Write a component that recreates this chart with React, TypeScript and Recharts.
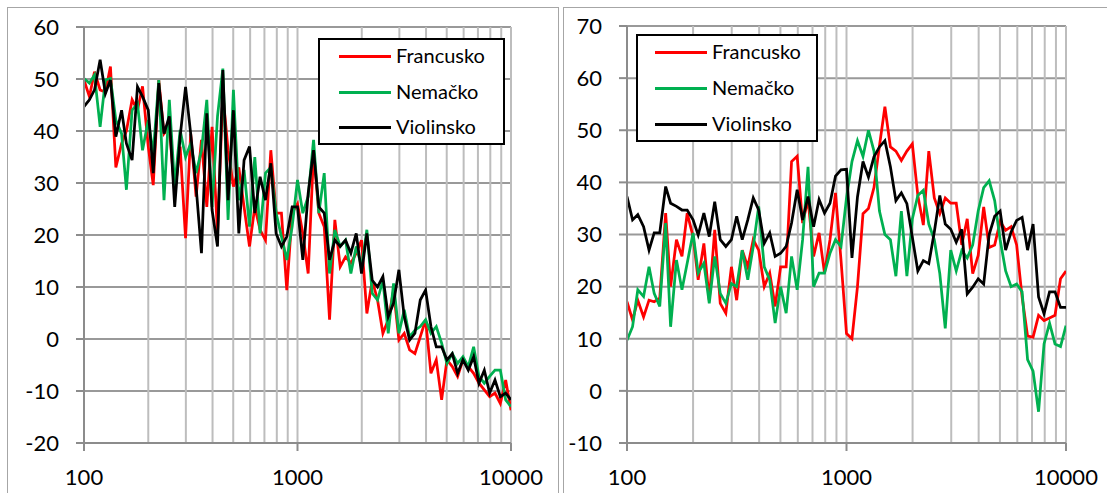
import React from 'react';
import { LineChart, Line, XAxis, YAxis, CartesianGrid, Legend, ReferenceLine } from 'recharts';

const FONT = "Lato, 'Open Sans', 'DejaVu Sans', sans-serif";

const FREQS = [
  100, 106, 112, 119, 126, 133, 141, 150, 158, 168, 178, 188, 200, 211, 224, 237, 251, 266, 282, 299,
  316, 335, 355, 376, 398, 422, 447, 473, 501, 531, 562, 596, 631, 668, 708, 750, 794, 841, 891, 944,
  1000, 1059, 1122, 1189, 1259, 1334, 1413, 1496, 1585, 1679, 1778, 1884, 1995, 2113, 2239, 2371, 2512, 2661, 2818, 2985,
  3162, 3350, 3548, 3758, 3981, 4217, 4467, 4732, 5012, 5309, 5623, 5957, 6310, 6683, 7079, 7499, 7943, 8414, 8913, 9441,
  10000,
];

const GRID_FREQS = [
  200, 300, 400, 500, 600, 700, 800, 900,
  1000, 2000, 3000, 4000, 5000, 6000, 7000, 8000, 9000, 10000,
];
const X_TICKS = [100, 1000, 10000];
const LEFT_Y_TICKS = [-20, -10, 0, 10, 20, 30, 40, 50, 60];
const RIGHT_Y_TICKS = [-10, 0, 10, 20, 30, 40, 50, 60, 70];

const SERIES_NAMES = ['Francusko', 'Nemačko', 'Violinsko'];
const SERIES_KEYS = ['fr', 'ne', 'vi'];
const SERIES_COLORS = ['#ff0000', '#00b050', '#000000'];

// Left panel
const LEFT_FRANCUSKO = [
  49.8, 46.6, 51.4, 47.9, 47.5, 52.4, 33, 37.6, 40, 46, 44, 48.6, 37, 29.6, 49.8, 39.5, 40.8, 28, 37, 19.4,
  39.5, 27.4, 38.3, 25.4, 40.8, 20.3, 47.2, 36.3, 29.3, 33, 25.4, 17.8, 25.4, 21, 19, 36.3, 24.2, 24.2, 9.4, 24.2,
  26, 20.3, 12.6, 35.7, 24.2, 21.6, 3.7, 22.9, 13.9, 15.8, 14.6, 16.5, 19, 4.9, 11.3, 7.5, 1.1, 3.7, 9.4, -0.2,
  1.1, -2.1, -2.8, 0.4, 3.7, -6.6, -4, -11.7, -4, -5.3, -7.2, -4, -5.3, -6.6, -8.5, -9.8, -11.1, -10.4, -12.4, -7.9,
  -13.7,
];
const LEFT_NEMACKO = [
  50.1, 49.2, 50.8, 40.8, 49.8, 50.1, 42.1, 39.5, 28.7, 44, 45.3, 36.3, 42.1, 35.7, 49.8, 26.7, 46, 29.3, 40.2, 35,
  37.6, 31.9, 36.3, 46, 25.4, 42.8, 52, 22.9, 47.9, 26.7, 32.5, 21.6, 35, 20.3, 31.9, 33, 24.2, 19.7, 15.2, 21.6,
  30.6, 24.2, 27.4, 38.3, 24.2, 31.9, 12.6, 21, 17.8, 19, 12.6, 17.8, 13.9, 21, 8.8, 7.5, 11.3, 1.1, 10.7, 1.1,
  5.6, 0.4, 1.7, 2.4, 3.7, 1.1, 2.4, -0.8, -4.7, -2.8, -4.7, -3.4, -5.3, -1.5, -7.2, -8.5, -7.2, -6, -6, -11.7,
  -13,
];
const LEFT_VIOLINSKO = [
  44.7, 46, 47.9, 53.7, 47.2, 49.8, 38.9, 44, 37.6, 34.4, 48.5, 46.6, 44, 31.9, 49.2, 39.5, 42.8, 25.4, 38.9, 48.5,
  39.5, 29.3, 16.5, 43.4, 24.8, 17.8, 51.7, 26.7, 44, 20.3, 34.4, 37, 24.2, 31.2, 26.7, 33.8, 20.3, 17.8, 19.7, 25.4,
  25.4, 15.2, 28, 36.3, 25.4, 24.2, 15.2, 19, 17.8, 19, 16.5, 20.3, 12.6, 20.3, 11.3, 10, 12, 4.3, 6.9, 13.3,
  4.3, -0.2, 1.1, 7.5, 9.4, 2.4, -1.5, -1.5, -4, -2.8, -6.6, -4, -6, -3.4, -8.5, -6, -10.4, -7.9, -11.1, -10.4,
  -11.7,
];

// Right panel
const RIGHT_FRANCUSKO = [
  17.1, 13.6, 17.4, 14.2, 17.4, 17.1, 17.8, 34.1, 20, 29, 25.8, 34.1, 29.6, 21.3, 28.3, 17.4, 30.9, 16.8, 14.9, 23.8,
  17.4, 27, 23.8, 29, 27, 20, 22.6, 16.2, 23.8, 23.8, 44, 45, 32.2, 36.7, 25.8, 30.3, 22.6, 29, 38, 25.1,
  11, 10, 20, 34, 35, 39, 47, 54.5, 46.8, 46, 44.2, 46, 47.4, 37.5, 31.8, 46, 37, 34, 37, 36,
  36, 28, 33, 22.5, 26, 35.3, 27.5, 28, 32.5, 30.8, 31.5, 28, 18, 10.5, 10.3, 14.5, 13.5, 14, 14.5, 21.5,
  23,
];
const RIGHT_NEMACKO = [
  9.7, 12.3, 19.4, 18.1, 23.8, 18.7, 16.2, 32.2, 12.3, 25.1, 19.4, 24.5, 30.3, 22.6, 24.5, 16.8, 25.8, 18.7, 16.8, 20.6,
  20, 27, 21.3, 27.7, 35.4, 23.8, 21.3, 13, 20, 14.9, 25.8, 19.4, 29, 43, 20, 22.6, 22.6, 26.4, 29, 27.7,
  37, 44, 48, 45, 50, 46, 34.5, 30, 29, 22, 34.5, 22, 33, 37.5, 38.5, 32, 29, 22.5, 12, 27,
  23, 26.9, 25.5, 28, 34.5, 39, 40.3, 36.5, 29, 23, 20, 20.5, 19, 6, 3.8, -4, 9, 13, 9, 8.5,
  12.5,
];
const RIGHT_VIOLINSKO = [
  37.3, 32.8, 33.8, 31.5, 27, 30.3, 30.3, 39.2, 36, 35.4, 34.7, 34.7, 32.8, 29.9, 34.1, 29.6, 36.3, 29, 27.7, 29,
  33.5, 29, 32.8, 37, 34.7, 28.3, 30.3, 25.8, 26.4, 27.7, 32.2, 38.6, 32.8, 37.3, 31.5, 36.7, 34.1, 36, 41.2, 42.4,
  42.5, 25.5, 37.2, 44, 41, 44.9, 46.8, 48, 43, 36.5, 38, 35.9, 29.5, 23, 25, 24.4, 30.5, 37.5, 32, 31,
  28.5, 31, 18.6, 19.9, 21.5, 20.5, 30, 33.5, 34.5, 27, 30.5, 32.7, 33.3, 27, 32, 18, 14.8, 19, 19, 16,
  16,
];

function buildRows(a: number[], b: number[], c: number[]) {
  return FREQS.map((f, i) => ({ f, fr: a[i], ne: b[i], vi: c[i] }));
}

const LEFT_ROWS = buildRows(LEFT_FRANCUSKO, LEFT_NEMACKO, LEFT_VIOLINSKO);
const RIGHT_ROWS = buildRows(RIGHT_FRANCUSKO, RIGHT_NEMACKO, RIGHT_VIOLINSKO);

type LegendCfg = { w: number; h: number; lineX1: number; lineX2: number; textX: number; rows: number[] };

function makeLegend(cfg: LegendCfg) {
  return (props: any) => {
    const payload =
      props && props.payload && props.payload.length
        ? props.payload
        : SERIES_NAMES.map((n, i) => ({ value: n, color: SERIES_COLORS[i] }));
    return (
      <div
        style={{
          width: cfg.w,
          height: cfg.h,
          border: '2px solid #000',
          boxSizing: 'border-box',
          background: '#fff',
          position: 'relative',
          fontFamily: FONT,
        }}
      >
        {payload.map((p: any, i: number) => (
          <React.Fragment key={String(p.value)}>
            <div
              style={{
                position: 'absolute',
                left: cfg.lineX1,
                top: cfg.rows[i] - 1.5,
                width: cfg.lineX2 - cfg.lineX1,
                height: 3,
                background: p.color,
              }}
            />
            <div
              style={{
                position: 'absolute',
                left: cfg.textX,
                top: cfg.rows[i] - 13,
                fontSize: 20,
                lineHeight: '24px',
                color: '#000',
                whiteSpace: 'nowrap',
              }}
            >
              {p.value}
            </div>
          </React.Fragment>
        ))}
      </div>
    );
  };
}

type PanelProps = {
  rows: any[];
  width: number;
  height: number;
  margin: { top: number; right: number; bottom: number; left: number };
  yAxisWidth: number;
  yDomain: [number, number];
  yTicks: number[];
  legendPos: { left: number; top: number };
  legendCfg: LegendCfg;
};

function Panel(p: PanelProps) {
  const tickStyle = { fontSize: 22, fill: '#000', fontFamily: FONT };
  return (
    <LineChart width={p.width} height={p.height} data={p.rows} margin={p.margin}>
      <CartesianGrid vertical={false} horizontal stroke="#999999" strokeWidth={2} />
      {GRID_FREQS.map((f) => (
        <ReferenceLine
          key={f}
          x={f}
          stroke="#bdbdbd"
          strokeWidth={2}
          ifOverflow="visible"
          zIndex={-50}
        />
      ))}
      <XAxis
        dataKey="f"
        type="number"
        scale="log"
        domain={[100, 10000]}
        ticks={X_TICKS}
        interval={0}
        allowDataOverflow
        height={50}
        tickSize={8}
        tickMargin={18}
        tick={tickStyle}
        stroke="#8c8c8c"
        strokeWidth={2}
      />
      <YAxis
        type="number"
        domain={p.yDomain}
        ticks={p.yTicks}
        interval={0}
        allowDataOverflow
        width={p.yAxisWidth}
        tickSize={8}
        tickMargin={17}
        tick={tickStyle}
        stroke="#8c8c8c"
        strokeWidth={2}
      />
      {SERIES_KEYS.map((k, i) => (
        <Line
          key={k}
          dataKey={k}
          name={SERIES_NAMES[i]}
          stroke={SERIES_COLORS[i]}
          strokeWidth={2.75}
          dot={false}
          activeDot={false}
          type="linear"
          isAnimationActive={false}
        />
      ))}
      <Legend
        layout="vertical"
        align="center"
        verticalAlign="middle"
        content={makeLegend(p.legendCfg)}
        wrapperStyle={{
          position: 'absolute',
          left: p.legendPos.left,
          top: p.legendPos.top,
          width: p.legendCfg.w,
          height: p.legendCfg.h,
        }}
      />
    </LineChart>
  );
}

export default function App() {
  return (
    <div
      style={{
        position: 'absolute',
        left: 0,
        top: 0,
        width: 1107,
        height: 493,
        overflow: 'hidden',
        background: '#fff',
        fontFamily: FONT,
      }}
    >
      <div
        style={{
          position: 'absolute',
          left: 7,
          top: 7,
          width: 552,
          height: 520,
          border: '1.5px solid #a6a6a6',
          boxSizing: 'border-box',
        }}
      />
      <div
        style={{
          position: 'absolute',
          left: 563,
          top: 7,
          width: 560,
          height: 520,
          border: '1.5px solid #a6a6a6',
          boxSizing: 'border-box',
        }}
      />
      <div style={{ position: 'absolute', left: 0, top: 0 }}>
        <Panel
          rows={LEFT_ROWS}
          width={560}
          height={493}
          margin={{ top: 27, right: 49, bottom: 0, left: 0 }}
          yAxisWidth={84}
          yDomain={[-20, 60]}
          yTicks={LEFT_Y_TICKS}
          legendPos={{ left: 318, top: 38 }}
          legendCfg={{ w: 187, h: 107, lineX1: 19, lineX2: 71, textX: 76, rows: [16, 52, 87] }}
        />
      </div>
      <div style={{ position: 'absolute', left: 560, top: 0 }}>
        <Panel
          rows={RIGHT_ROWS}
          width={547}
          height={493}
          margin={{ top: 26, right: 41, bottom: 0, left: 0 }}
          yAxisWidth={67}
          yDomain={[-10, 70]}
          yTicks={RIGHT_Y_TICKS}
          legendPos={{ left: 76, top: 34 }}
          legendCfg={{ w: 182, h: 108, lineX1: 17, lineX2: 69, textX: 74, rows: [16, 52, 88] }}
        />
      </div>
    </div>
  );
}
